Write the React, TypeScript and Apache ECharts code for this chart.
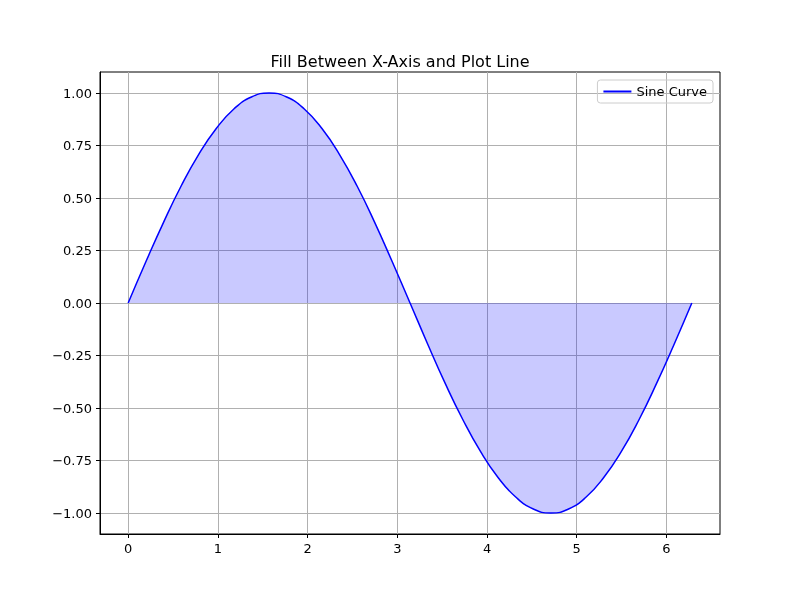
import React, { useEffect, useRef } from "react";
import * as echarts from "echarts";

const xs = [0, 0.196, 0.393, 0.589, 0.785, 0.982, 1.178, 1.374, 1.571, 1.767, 1.963, 2.16, 2.356, 2.553, 2.749, 2.945, 3.142, 3.338, 3.534, 3.731, 3.927, 4.123, 4.32, 4.516, 4.712, 4.909, 5.105, 5.301, 5.498, 5.694, 5.89, 6.087, 6.283];
const ys = [0, 0.195, 0.383, 0.556, 0.707, 0.831, 0.924, 0.981, 1, 0.981, 0.924, 0.831, 0.707, 0.556, 0.383, 0.195, 0, -0.195, -0.383, -0.556, -0.707, -0.831, -0.924, -0.981, -1, -0.981, -0.924, -0.831, -0.707, -0.556, -0.383, -0.195, 0];
const xTicks = [0, 1, 2, 3, 4, 5, 6];
const yTicks = [-1, -0.75, -0.5, -0.25, 0, 0.25, 0.5, 0.75, 1];

export default function App() {
  const ref = useRef<HTMLDivElement>(null);
  useEffect(() => {
    const chart = echarts.init(ref.current!, null, { renderer: "svg" });
    const font = "DejaVu Sans";
    const axisCommon = {
      axisLine: { show: true, onZero: false, lineStyle: { color: "#000" } },
      axisTick: { show: true, length: 4, lineStyle: { color: "#000" } },
      splitLine: { show: true, lineStyle: { color: "#b0b0b0", width: 1 } },
    };
    chart.setOption({
      animation: false,
      textStyle: { fontFamily: font },
      title: { text: "Fill Between X-Axis and Plot Line", left: "center", top: 48, textStyle: { fontSize: 16, fontWeight: "normal", color: "#000", fontFamily: font } },
      legend: {
        right: 87, top: 80, borderColor: "#ccc", borderWidth: 1, borderRadius: 3, padding: [5, 6],
        itemWidth: 28, itemHeight: 2, icon: "rect",
        textStyle: { fontSize: 13, color: "#000", fontFamily: font },
        data: ["Sine Curve"],
      },
      grid: { left: 100, right: 80, top: 72, bottom: 66, show: true, borderColor: "#000", borderWidth: 1 },
      xAxis: {
        type: "value", min: -0.314, max: 6.597, ...axisCommon,
        axisTick: { ...axisCommon.axisTick, customValues: xTicks },
        axisLabel: { customValues: xTicks, color: "#000", fontSize: 13, margin: 8, formatter: (v: number) => String(Math.round(v)) },
      },
      yAxis: {
        type: "value", min: -1.1, max: 1.1, ...axisCommon,
        axisTick: { ...axisCommon.axisTick, customValues: yTicks },
        axisLabel: { customValues: yTicks, color: "#000", fontSize: 13, margin: 8, formatter: (v: number) => v.toFixed(2).replace("-", "\u2212") },
      },
      series: [{
        name: "Sine Curve", type: "line", smooth: true, showSymbol: false,
        data: xs.map((x, i) => [x, ys[i]]),
        lineStyle: { color: "#0000ff", width: 1.5 }, itemStyle: { color: "#0000ff" },
        areaStyle: { color: "rgba(0,0,255,0.3)", origin: 0 },
      }],
    });
    return () => chart.dispose();
  }, []);
  return <div ref={ref} style={{ position: "fixed", left: 0, top: 0, width: 800, height: 600 }} />;
}
